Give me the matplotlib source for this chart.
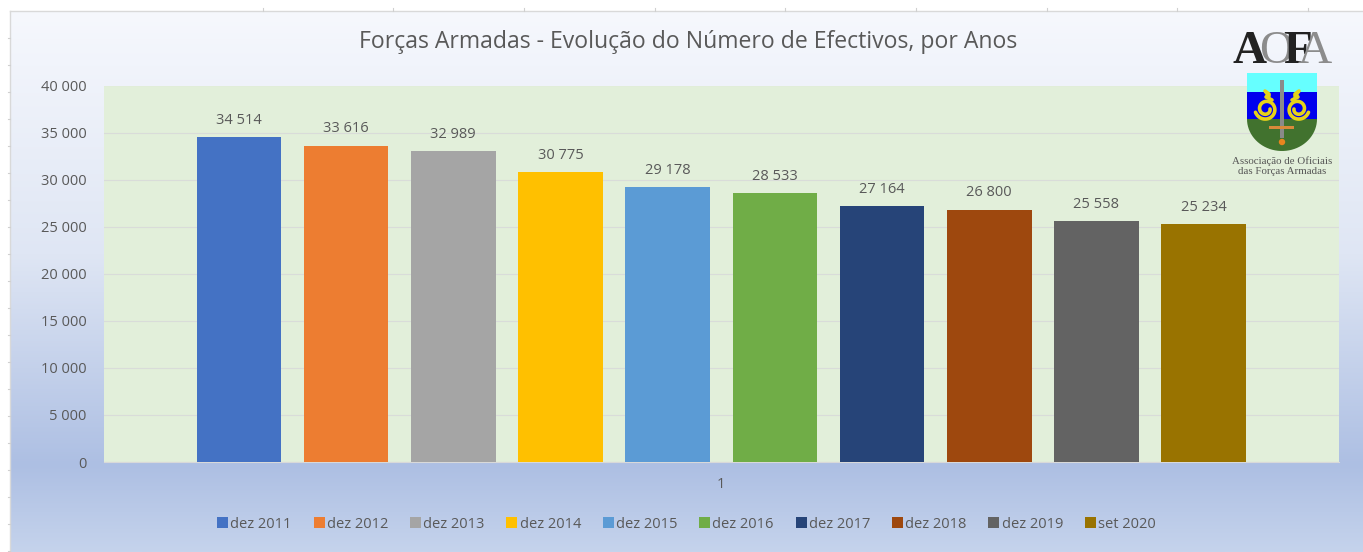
import numpy as np
import matplotlib
matplotlib.use('Agg')
import matplotlib.pyplot as plt
from matplotlib.colors import LinearSegmentedColormap
from matplotlib.patches import Polygon, Rectangle

plt.rcParams['font.family'] = ['Open Sans', 'DejaVu Sans']

labels = ['dez 2011', 'dez 2012', 'dez 2013', 'dez 2014', 'dez 2015',
          'dez 2016', 'dez 2017', 'dez 2018', 'dez 2019', 'set 2020']
values = [34514, 33616, 32989, 30775, 29178, 28533, 27164, 26800, 25558, 25234]
colors = ['#4472c4', '#ed7d31', '#a5a5a5', '#ffc000', '#5b9bd5',
          '#70ad47', '#264478', '#9e480e', '#636363', '#997300']
yticks = [0, 5000, 10000, 15000, 20000, 25000, 30000, 35000, 40000]
title = 'Forças Armadas - Evolução do Número de Efectivos, por Anos'

W, H = 1363, 552
TXT = '#595959'


def fmt(v):
    return f'{v:,}'.replace(',', ' ')


fig = plt.figure(figsize=(W / 100, H / 100), dpi=100, facecolor='white')

# pixel canvas for the background, sheet marks and logo
bg = fig.add_axes([0, 0, 1, 1], zorder=0)
bg.set_xlim(0, W)
bg.set_ylim(H, 0)
bg.axis('off')

cmap = LinearSegmentedColormap.from_list('bg', [(0, '#f6f8fd'), (0.45, '#dfe6f4'),
                                                (0.84, '#adbfe3'), (1, '#c5d3ec')])
grad = np.linspace(0, 1, 256).reshape(-1, 1)
bg.imshow(grad, cmap=cmap, extent=[10, W, H, 11], aspect='auto', zorder=0)
bg.set_xlim(0, W)
bg.set_ylim(H, 0)
bg.plot([10, W], [11, 11], color='#d9d9d9', lw=1, zorder=1)
bg.plot([10, 10], [11, H], color='#d9d9d9', lw=1, zorder=1)
for yy in range(38, H, 27):
    bg.plot([8, 10], [yy, yy], color='#d0d0d0', lw=0.8, zorder=1)
for xx in [263, 393, 524, 655, 785, 916, 1047, 1177, 1308]:
    bg.plot([xx, xx], [8, 11], color='#d0d0d0', lw=0.8, zorder=1)

bg.text(688, 42, title, ha='center', va='center', fontsize=16.6, color=TXT)

# main plot
ax = fig.add_axes([103.5 / W, 1 - 462 / H, (1339 - 103.5) / W, (462 - 85.5) / H], zorder=1)
ax.set_facecolor('#e2efda')
ax.set_xlim(-0.5, 0.5)
ax.set_ylim(0, 40000)
pitch = 107.2 / 1235.5
bar_w = 84.5 / 1235.5
for i in range(len(values)):
    x = (i - 4.5) * pitch
    ax.bar(x, values[i], width=bar_w, color=colors[i], label=labels[i], zorder=3)
    ax.text(x, values[i] + 1000, fmt(values[i]), ha='center', va='bottom',
            fontsize=10.5, color=TXT, zorder=4)

ax.set_yticks(yticks)
ax.set_yticklabels([fmt(v) for v in yticks], fontsize=10.5, color=TXT)
ax.set_xticks([0])
ax.set_xticklabels(['1'], fontsize=10.5, color=TXT)
ax.tick_params(axis='both', length=0)
ax.tick_params(axis='y', pad=12)
ax.tick_params(axis='x', pad=11)
ax.grid(axis='y', color='#d9dcd9', lw=0.8, zorder=1)
for s in ax.spines.values():
    s.set_visible(False)
ax.spines['bottom'].set_visible(True)
ax.spines['bottom'].set_color('#d9d9d9')

leg = ax.legend(loc='center', bbox_to_anchor=(686.5 / W, 1 - 524 / H),
                bbox_transform=fig.transFigure, ncol=10, frameon=False,
                fontsize=10.5, handlelength=0.75, handleheight=0.75,
                handletextpad=0.15, columnspacing=1.5, labelcolor=TXT)

# logo on top of everything
logo = fig.add_axes([0, 0, 1, 1], zorder=5)
logo.set_xlim(0, W)
logo.set_ylim(H, 0)
logo.axis('off')
logo.patch.set_alpha(0)

for ch, xx, c, wt in [('A', 1250, '#222222', 'bold'), ('O', 1276, '#8c8c8c', 'normal'),
                      ('F', 1298, '#222222', 'bold'), ('A', 1315, '#8c8c8c', 'normal')]:
    logo.text(xx, 52, ch, ha='center', va='center', fontsize=34, color=c, weight=wt,
              family='Liberation Serif')

sx0, sx1 = 1247, 1317
logo.add_patch(Rectangle((sx0, 73), sx1 - sx0, 19, color='#66ffff', lw=0))
logo.add_patch(Rectangle((sx0, 92), sx1 - sx0, 27, color='#0000ee', lw=0))
t = np.linspace(0, np.pi, 40)
arc_x = 1282 + 35 * np.cos(t)
arc_y = 119 + 32 * np.sin(t)
logo.add_patch(Polygon(np.column_stack([arc_x, arc_y]), closed=True, color='#41722e', lw=0))

# two mirrored yellow scrolls
turn = np.linspace(0.3, 3 * np.pi, 80)
radius = np.linspace(11, 4, 80)
for side in [-1, 1]:
    logo.plot(1282 + side * (16 + radius * np.cos(turn)), 109 + radius * np.sin(turn),
              color='#e6d21a', lw=2.6, solid_capstyle='round')
    logo.plot(1282 + side * np.array([10, 16, 13, 17, 13]), [100, 97, 94, 91, 96],
              color='#e6d21a', lw=2.6, solid_capstyle='round')

logo.add_patch(Rectangle((1280, 80), 4, 58, color='#8a8a8a', lw=0))
logo.add_patch(Rectangle((1269, 126), 25, 3, color='#d98a3a', lw=0))
logo.add_patch(plt.Circle((1282, 142), 3.2, color='#e8851e', lw=0))

logo.text(1282, 161, 'Associação de Oficiais', ha='center', va='center', fontsize=7.8,
          color='#555555', family='Liberation Serif')
logo.text(1282, 172, 'das Forças Armadas', ha='center', va='center', fontsize=7.8,
          color='#555555', family='Liberation Serif')

fig.savefig('out.png', dpi=100, facecolor='white')
